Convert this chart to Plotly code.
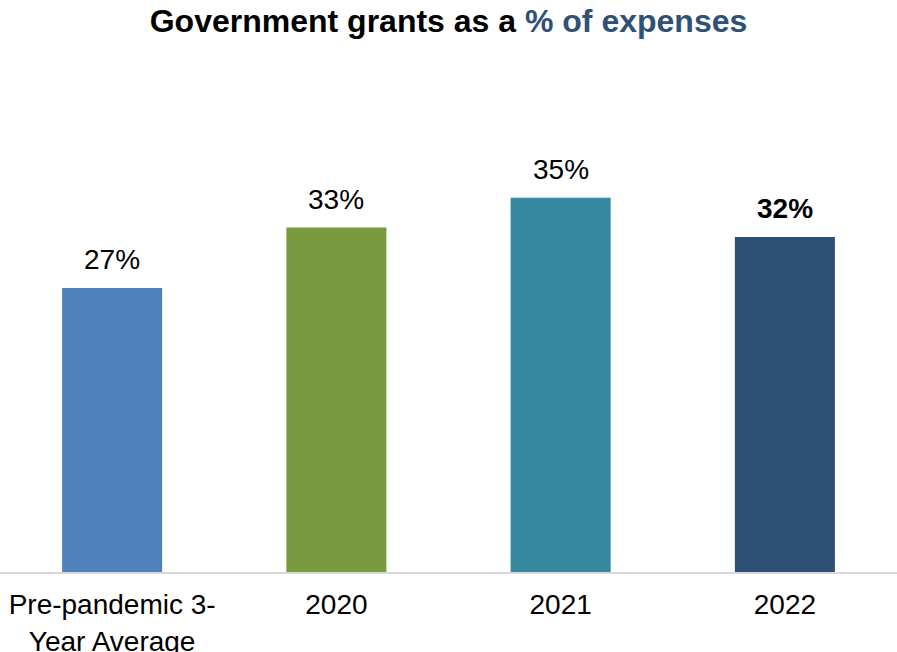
import plotly.graph_objects as go

categories = ["Pre-pandemic 3-<br>Year Average", "2020", "2021", "2022"]
values = [26.8, 32.5, 35.3, 31.6]
labels = ["27%", "33%", "35%", "<b>32%</b>"]
colors = ["#4F81BD", "#7A9A3F", "#3588A0", "#2E4F75"]

FONT = "Liberation Sans, Arial, sans-serif"

fig = go.Figure(
    go.Bar(
        x=categories,
        y=values,
        marker=dict(color=colors, line=dict(width=0)),
        width=0.446,
        hoverinfo="skip",
    )
)

for i, (v, t) in enumerate(zip(values, labels)):
    fig.add_annotation(
        x=i, y=v, text=t, showarrow=False, yanchor="bottom",
        yshift=11, font=dict(family=FONT, size=28, color="#000000"),
    )

fig.update_layout(
    width=897,
    height=652,
    margin=dict(l=0, r=0, t=148, b=80, autoexpand=False),
    plot_bgcolor="white",
    paper_bgcolor="white",
    showlegend=False,
    font=dict(family=FONT, size=28, color="#000000"),
    title=dict(
        text="<b>Government grants as a <span style='color:#2F5077'>% of expenses</span></b>",
        x=0.5, xanchor="center", xref="paper",
        y=1 - 21 / 652, yref="container", yanchor="middle",
        font=dict(family=FONT, size=32, color="#000000"),
    ),
    xaxis=dict(
        type="category", range=[-0.5, len(categories) - 0.5],
        automargin=False,
        showline=True, linecolor="#D9D9D9", linewidth=1.5,
        ticks="", showgrid=False, zeroline=False,
        ticklabelstandoff=7,
        tickfont=dict(family=FONT, size=28, color="#000000"),
    ),
    yaxis=dict(range=[0, 40], visible=False, showgrid=False, zeroline=False,
               automargin=False),
)

fig.write_html("out.html")
